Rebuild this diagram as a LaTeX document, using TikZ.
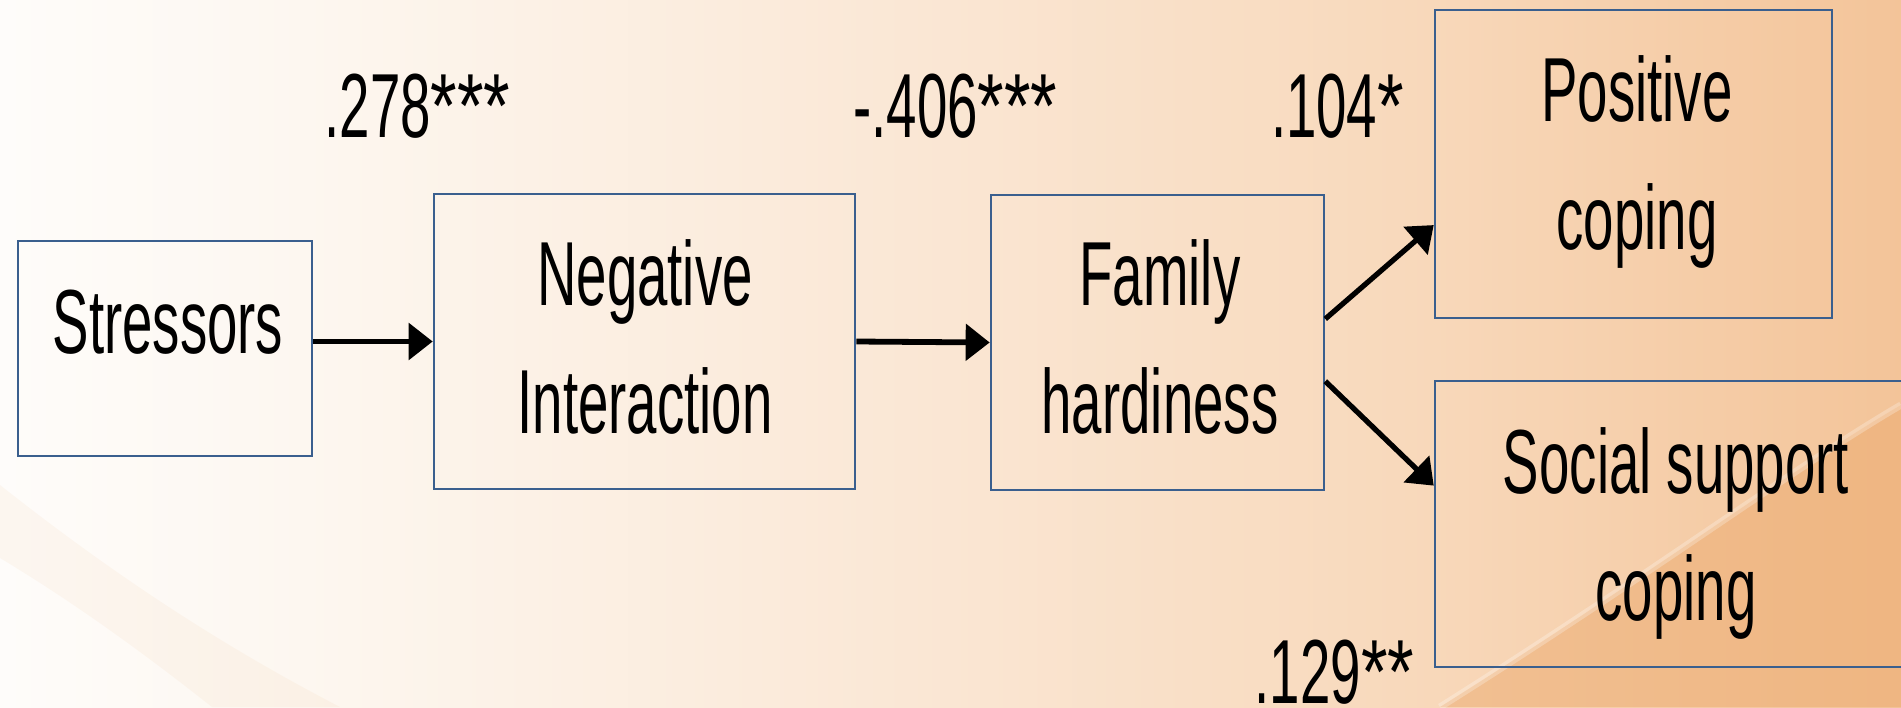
\documentclass[tikz,border=0pt]{standalone}
\usepackage{fontspec}
\setmainfont[FakeStretch=0.6]{Liberation Sans}
\newfontfamily\starfont[FakeStretch=0.75]{Liberation Sans}
\usepackage{xcolor}
\usepackage{tikz}
\usetikzlibrary{arrows.meta,positioning,calc}
\definecolor{boxBlue}{HTML}{3A5F8E}
\definecolor{bgLeft}{HTML}{FEFCFA}
\definecolor{bgA}{HTML}{FDF7F0}
\definecolor{bgMid}{HTML}{FAE6D3}
\definecolor{bgB}{HTML}{F8D8BA}
\definecolor{bgRight}{HTML}{F3C499}
\definecolor{bgWedge}{HTML}{ECA96C}
\pgfdeclarehorizontalshading{bgfade}{100bp}{color(0bp)=(bgLeft); color(25bp)=(bgLeft); color(33bp)=(bgA); color(50bp)=(bgMid); color(62.7bp)=(bgB); color(75bp)=(bgRight); color(100bp)=(bgRight)}
\newcommand{\sigstars}[1]{{\starfont #1}}
\tikzset{
  varbox/.style={draw=boxBlue, line width=1.5pt, inner sep=0pt},
  vartext/.style={inner sep=0pt, align=center, font=\fontsize{51.8}{72.8}\selectfont},
  coef/.style={inner sep=0pt, anchor=base, font=\fontsize{51.8}{72.8}\selectfont},
  flow/.style={line width=3.3pt, -{Triangle[length=13.7pt, width=20.5pt]}}
}

\begin{document}
\begin{tikzpicture}[x=0.02cm, y=-0.02cm]
\useasboundingbox (0,0) rectangle (1901,707);
% --- background ---
\shade[shading=bgfade] (0,0) rectangle (1901,707);
\fill[bgWedge, opacity=0.5] (1440,707) .. controls (1650,575) and (1790,470) .. (1901,405) -- (1901,707) -- cycle;
\draw[white, opacity=0.25, line width=4pt] (1440,707) .. controls (1650,575) and (1790,470) .. (1901,405);
\fill[bgWedge, opacity=0.07] (0,485) .. controls (120,580) and (230,650) .. (340,707) -- (212,707) .. controls (140,650) and (70,600) .. (0,558) -- cycle;
% --- boxes ---
\node[varbox, minimum width=5.88cm, minimum height=4.3cm] (stress) at (165,348.5) {};
\node[varbox, minimum width=8.42cm, minimum height=5.9cm] (negint) at (644.5,341.5) {};
\node[varbox, minimum width=6.66cm, minimum height=5.9cm] (hardy) at (1157.5,342.5) {};
\node[varbox, minimum width=7.94cm, minimum height=6.16cm] (poscope) at (1633.5,164) {};
\node[varbox, minimum width=9.64cm, minimum height=5.72cm] (soccope) at (1676,524) {};
% --- box texts ---
\node[coef] (stresstxt) at (168,353) {Stressors};
\node[vartext] (negtxt) at (645,336.75) {Negative\\Interaction};
\node[vartext] (famtxt) at (1160,336.75) {Family\\hardiness};
\node[vartext] (postxt) at (1637,162) {Positive\\coping};
\node[vartext] (soctxt) at (1676,533.5) {Social support\\coping};
% --- paths ---
\draw[flow] (stress.east |- negint.west) -- (negint.west);
\draw[flow] (negint.east) -- (hardy.west);
\draw[flow, line width=3pt] (hardy.8.5) -- (poscope.197.1);
\draw[flow, line width=3pt] (hardy.347.3) -- (soccope.171.5);
% --- coefficients ---
\node[coef] (c1) at (417.5,137) {.278\sigstars{***}};
\node[coef] (c2) at (955.5,137) {-.406\sigstars{***}};
\node[coef] (c3) at (1337.5,137) {.104\sigstars{*}};
\node[coef] (c4) at (1334.5,703) {.129\sigstars{**}};
\end{tikzpicture}
\end{document}
